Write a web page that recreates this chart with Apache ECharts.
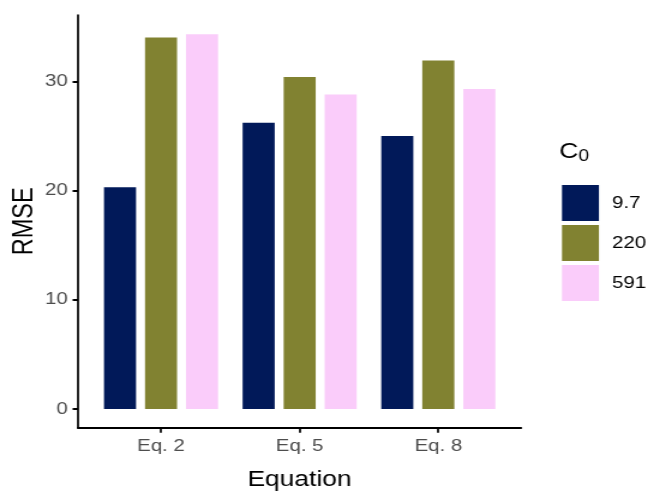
<!DOCTYPE html>
<html>
<head>
<meta charset="utf-8">
<script src="https://cdn.jsdelivr.net/npm/echarts@6/dist/echarts.min.js"></script>
<style>
  html, body { margin: 0; padding: 0; background: #ffffff; overflow: hidden; }
  /* the figure is laid out narrower and widened 1.2x horizontally */
  #chart { width: 540.83px; height: 492px; transform: scaleX(1.2); transform-origin: 0 0; }
</style>
</head>
<body>
<div id="chart"></div>
<script>
// Categories and series values
const equations = ['Eq. 2', 'Eq. 5', 'Eq. 8'];
const c0Levels = ['9.7', '220', '591'];
const rmse97 = [20.3, 26.2, 25.0];
const rmse220 = [34.0, 30.4, 31.9];
const rmse591 = [34.3, 28.8, 29.3];
const yTicks = [0, 10, 20, 30];

const palette = ['#011959', '#818231', '#FACCFA'];
const seriesValues = [rmse97, rmse220, rmse591];

const FONT = '"Liberation Sans", Arial, Helvetica, sans-serif';
const Y_MIN = -1.72, Y_MAX = 36.07;

const chart = echarts.init(document.getElementById('chart'), null, { renderer: 'canvas' });

chart.setOption({
  backgroundColor: '#ffffff',
  animation: false,
  textStyle: { fontFamily: FONT },
  title: {
    text: '{c|C}{s|0}',
    left: 466,
    top: 138,
    padding: 0,
    textStyle: {
      fontWeight: 'normal',
      rich: {
        c: { fontSize: 22, color: '#000', fontWeight: 'normal', fontFamily: FONT },
        s: { fontSize: 16, color: '#000', fontWeight: 'normal', fontFamily: FONT, padding: [11, 0, 0, 0] }
      }
    }
  },
  legend: {
    orient: 'vertical',
    left: 463.3,
    top: 180,
    itemWidth: 30.8,
    itemHeight: 36,
    itemGap: 4,
    icon: 'rect',
    data: c0Levels,
    textStyle: { fontSize: 17, color: '#000', fontFamily: FONT, padding: [0, 0, 0, 6] }
  },
  grid: [
    // frame that carries the axis lines and y labels
    { left: 65, top: 15, width: 369.2, height: 412.7, outerBoundsMode: 'none' },
    // inner band holding the dodged bars
    { left: 76.4, top: 15, width: 346.6, height: 412.7, outerBoundsMode: 'none' }
  ],
  xAxis: [
    {
      gridIndex: 0, type: 'value', min: 0, max: 1,
      axisLine: { show: true, onZero: false, lineStyle: { color: '#000', width: 2 } },
      axisTick: { show: false }, axisLabel: { show: false }, splitLine: { show: false },
      name: 'Equation', nameLocation: 'middle', nameGap: 41, nameMoveOverlap: false,
      nameTextStyle: { fontSize: 22, color: '#000', fontFamily: FONT }
    },
    {
      gridIndex: 1, type: 'category', data: equations,
      axisLine: { show: false, onZero: false },
      axisTick: { show: true, alignWithLabel: true, length: 5, lineStyle: { color: '#000', width: 1.7 } },
      axisLabel: { fontSize: 17, color: '#4d4d4d', margin: 10, fontFamily: FONT },
      splitLine: { show: false }
    }
  ],
  yAxis: [
    {
      gridIndex: 0, type: 'value', min: Y_MIN, max: Y_MAX,
      axisLine: { show: true, onZero: false, lineStyle: { color: '#000', width: 1.7 } },
      axisTick: { show: true, length: 4.5, customValues: yTicks, lineStyle: { color: '#000', width: 2 } },
      axisLabel: { fontSize: 17, color: '#4d4d4d', margin: 8.5, customValues: yTicks, fontFamily: FONT },
      splitLine: { show: false },
      name: 'RMSE', nameLocation: 'middle', nameGap: 32, nameRotate: 90, nameMoveOverlap: false,
      nameTextStyle: { fontSize: 23.5, color: '#000', fontFamily: FONT }
    },
    {
      gridIndex: 1, type: 'value', min: Y_MIN, max: Y_MAX, show: false,
      splitLine: { show: false }
    }
  ],
  series: c0Levels.map((name, i) => ({
    name: name,
    type: 'bar',
    xAxisIndex: 1,
    yAxisIndex: 1,
    data: seriesValues[i],
    barWidth: 26.7,
    barGap: '28%',
    itemStyle: { color: palette[i] }
  }))
});
</script>
</body>
</html>
